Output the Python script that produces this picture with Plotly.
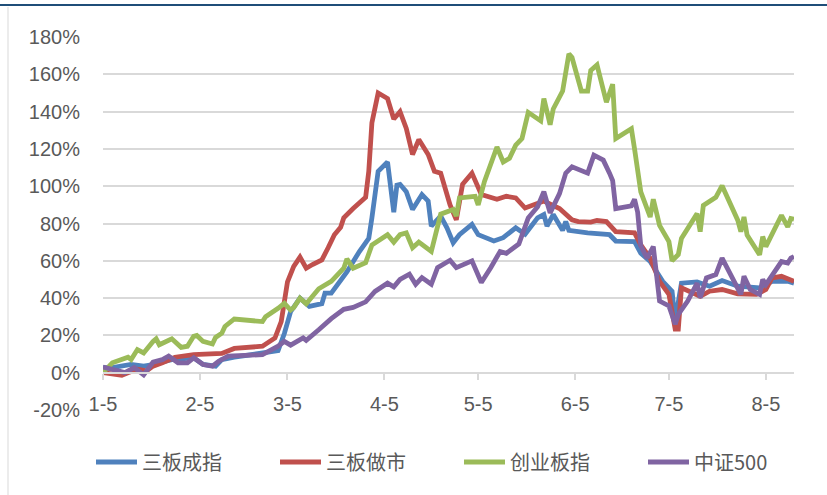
import plotly.graph_objects as go

YEAR = "2015"

# 三板成指
blue_days = ["01-05","01-08","01-14","01-18","01-21","01-27","02-03","02-06","02-10","02-12","02-16","02-25",
             "03-02","03-04","03-06","03-09","03-12","03-16","03-17","03-19","03-24","03-28","03-31","04-01",
             "04-03","04-06","04-08","04-09","04-10","04-12","04-14","04-17","04-19","04-20","04-23","04-25",
             "04-27","04-29","05-03","05-05","05-10","05-13","05-17","05-20","05-24","05-26","05-27","05-29",
             "06-01","06-02","06-03","06-09","06-13","06-16","06-18","06-24","06-26","06-29","07-03","07-06",
             "07-07","07-09","07-14","07-18","07-22","07-27","08-03","08-07","08-12","08-14"]
blue_vals = [2.7,2.7,4.4,3.5,4.4,7,8,4.4,3.5,7,8.3,10.6,
             11.8,21,32.7,40,35.6,37,42.7,42.7,54,65,72,83,
             108,113,86,100.6,101,97,87.5,95.5,92,78.6,84,77.7,
             69.7,74,79.5,74,70.6,72.4,77.7,74.2,83,84.8,78.6,84.8,
             76.3,81,76.3,75,74.7,74,70.6,70.3,64,59.6,49,43.7,
             27.8,48,48.7,46.4,49.4,46.4,45.5,49,49,48]

# 三板做市
red_days = ["01-05","01-08","01-11","01-13","01-16","01-19","01-21","01-24","01-28","02-03","02-12","02-16",
            "02-25","03-01","03-03","03-05","03-07","03-09","03-11","03-13","03-16","03-18","03-20","03-22",
            "03-23","03-26","03-30","03-31","04-01","04-03","04-06","04-08","04-10","04-12","04-14","04-16",
            "04-19","04-21","04-23","04-26","04-28","04-30","05-03","05-06","05-11","05-14","05-17","05-20",
            "05-26","05-31","06-04","06-06","06-10","06-12","06-15","06-18","06-24","06-26","06-29","07-02",
            "07-05","07-07","07-08","07-09","07-15","07-18","07-22","07-27","08-02","08-05","08-07","08-10","08-14"]
red_vals = [0,-1,-1.4,0,1.8,1,3.5,5.3,8.3,9.7,10.3,13,
            14.2,18.6,27.4,48.7,57,62,56,58,60.5,67,74,78,
            83,88,94,108,134,150,147,136,140,131,117,125,
            117,108,107,90,82,101,107,95.5,93,94.6,93.7,88.3,
            92,88,82,81,80.7,81.6,81,75.6,75,68.5,61.4,49,
            42,23.4,23.4,45.5,41,43.7,44.6,42.3,42,44.6,50.8,51.7,49]

# 创业板指
green_days = ["01-05","01-08","01-13","01-14","01-16","01-18","01-21","01-22","01-23","01-27","01-30","02-01",
              "02-03","02-04","02-06","02-09","02-10","02-12","02-13","02-16","02-25","02-26","03-02","03-04",
              "03-06","03-07","03-09","03-11","03-15","03-19","03-23","03-24","03-26","03-30","04-01","04-06",
              "04-08","04-10","04-12","04-14","04-16","04-20","04-23","04-27","04-28","04-29","05-04","05-05",
              "05-07","05-11","05-13","05-15","05-17","05-19","05-21","05-25","05-26","05-28","05-29","06-01",
              "06-03","06-04","06-07","06-09","06-10","06-12","06-15","06-17","06-18","06-23","06-24","06-26",
              "06-29","06-30","07-02","07-05","07-06","07-08","07-09","07-14","07-15","07-16","07-20","07-21",
              "07-22","07-27","07-28","07-29","07-30","08-03","08-04","08-05","08-10","08-12","08-13","08-14"]
green_vals = [0,5.3,8.3,7.1,12.4,10.6,16.8,18.2,15,18.2,13.6,14.2,
              19.5,20,16.8,15.4,18.9,21.2,24.8,28.8,27.4,30,34.5,37.2,
              33.6,34.9,40,37,45,49,56,61,56,59,68.5,74,
              70,74,75,67,70,65,85,87.5,84,93.7,94.6,90,
              102.6,121,113,115,122,125.5,139.6,135,147,133,141.4,151,
              171,169,151,151,162,165,145,154.7,125.5,130.8,120,97,
              83.5,93,79,70.3,60,63.4,72,85.3,75.6,89.7,94,97.7,
              100.3,81.8,75.6,83.5,73.8,63.2,73,67.6,84.4,78.2,82.7,82.3]

# 中证500
purple_days = ["01-05","01-09","01-12","01-15","01-18","01-21","01-24","01-26","01-29","02-01","02-03","02-06",
               "02-09","02-11","02-14","02-25","03-02","03-04","03-06","03-10","03-11","03-15","03-19","03-23",
               "03-26","03-30","04-02","04-06","04-08","04-10","04-13","04-15","04-17","04-20","04-22","04-26",
               "04-28","05-03","05-06","05-09","05-12","05-14","05-17","05-18","05-21","05-24","05-26","05-28",
               "05-31","06-02","06-04","06-09","06-11","06-14","06-16","06-17","06-18","06-23","06-24","06-25",
               "06-26","06-28","06-30","07-02","07-05","07-07","07-08","07-11","07-14","07-15","07-17","07-20",
               "07-22","07-25","07-28","07-29","07-31","08-03","08-04","08-05","08-10","08-12","08-13","08-14"]
purple_vals = [3,1,0,2.7,-1.2,5.7,7,8.9,5.3,5.3,8,4.4,
               3.5,6.2,8.9,9.7,14.2,16.8,14.8,18.7,17.3,23,29,34,
               35,38,43.6,48,46,50,52.8,47.4,51,47.4,56.3,60.3,
               56.3,60,48.4,56.3,65,64,68,69,83,89,97,85.7,
               96,107,110.4,107,116.6,114,107,103,88,89.5,93,86,
               68,61.4,67.6,38.4,35.8,26,31.3,38.4,48,40.2,50.8,52.6,
               61.4,51.7,42,51.7,44.6,42,50,47.3,59.6,58.8,61.4,62.3]

series_names = ["三板成指", "三板做市", "创业板指", "中证500"]
series_colors = ["#4F81BD", "#C0504D", "#9BBB59", "#8064A2"]

tick_days = ["01-05","02-05","03-05","04-05","05-05","06-05","07-05","08-05"]
tick_labels = ["1-5","2-5","3-5","4-5","5-5","6-5","7-5","8-5"]
y_ticks = [-20, 0, 20, 40, 60, 80, 100, 120, 140, 160, 180]
y_labels = ["-20%", "0%", "20%", "40%", "60%", "80%", "100%", "120%", "140%", "160%", "180%"]

def full(days):
    return [f"{YEAR}-{d}" for d in days]

fig = go.Figure()
for name, color, days, vals in zip(series_names, series_colors,
                                    [blue_days, red_days, green_days, purple_days],
                                    [blue_vals, red_vals, green_vals, purple_vals]):
    fig.add_trace(go.Scatter(x=full(days), y=vals, mode="lines", name=name,
                             line=dict(color=color, width=4.8)))

W, H = 827, 495
L, R, T, B = 103, 33, 37, 85
pw, ph = W - L - R, H - T - B

def px2x(px):
    return (px - L) / pw

def px2y(py):
    return (H - B - py) / ph

grid = "#D9D9D9"
fig.update_layout(
    width=W, height=H,
    margin=dict(l=L, r=R, t=T, b=B),
    paper_bgcolor="white", plot_bgcolor="white",
    font=dict(family="Liberation Sans, Arial, sans-serif", color="#595959", size=20),
    showlegend=True,
    legend=dict(orientation="h", x=px2x(98), xanchor="left", y=px2y(462), yanchor="middle",
                itemwidth=41, entrywidth=128, entrywidthmode="pixels",
                font=dict(family="Noto Sans CJK SC, Liberation Sans, sans-serif", size=20, color="#595959"),
                bgcolor="rgba(0,0,0,0)"),
    xaxis=dict(type="date", range=[f"{YEAR}-01-05", f"{YEAR}-08-14"],
               tickvals=full(tick_days), ticktext=tick_labels,
               anchor="free", position=0.1,
               showgrid=False, zeroline=False,
               showline=True, linecolor=grid, linewidth=2,
               ticks="outside", ticklen=6, tickcolor=grid, tickwidth=2,
               ticklabelstandoff=7,
               tickfont=dict(size=20, color="#595959")),
    yaxis=dict(range=[-20, 180], tickvals=y_ticks, ticktext=y_labels,
               showgrid=True, gridcolor=grid, gridwidth=2,
               zeroline=False, showline=False, ticks="",
               ticklabelstandoff=22,
               tickfont=dict(size=20, color="#595959")),
    shapes=[
        dict(type="line", xref="paper", yref="paper", x0=px2x(0), x1=px2x(W), y0=px2y(5), y1=px2y(5),
             line=dict(color="#1F4E79", width=2)),
        dict(type="line", xref="paper", yref="paper", x0=px2x(8), x1=px2x(8), y0=px2y(7), y1=px2y(H),
             line=dict(color="#D9D9D9", width=1)),
    ],
)

fig.write_html("out.html", config={"displayModeBar": False},
               post_script="document.body.style.margin='0';")
